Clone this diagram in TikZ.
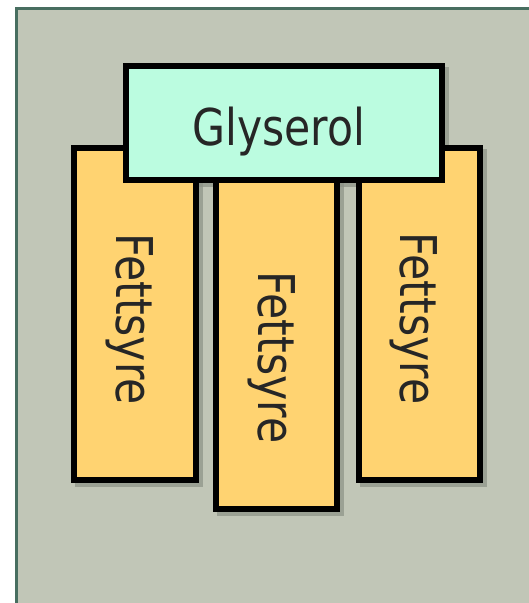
\documentclass[tikz,border=0pt]{standalone}
\usepackage{fontspec}
\setmainfont[FakeStretch=0.84]{DejaVu Sans}
\definecolor{bgc}{RGB}{193,198,183}
\definecolor{framec}{RGB}{72,110,96}
\definecolor{glyc}{RGB}{187,252,224}
\definecolor{fatc}{RGB}{255,211,113}
\definecolor{shadc}{RGB}{140,146,134}
\tikzset{
  boxstyle/.style={draw=black, line width=6pt, inner sep=0pt, outer sep=0pt},
  fatbox/.style={boxstyle, fill=fatc},
  glybox/.style={boxstyle, fill=glyc},
  shad/.style={fill=shadc, opacity=0.7},
  lbl/.style={font=\fontsize{50.7}{51}\selectfont, inner sep=0pt, text height=37pt, text depth=0pt, text=black!85},
  vlbl/.style={lbl, rotate=-90}
}
\begin{document}
\begin{tikzpicture}[x=1pt,y=-1pt]
\useasboundingbox (0,0) rectangle (529,603);
\fill[white] (0,0) rectangle (529,603);
\fill[bgc] (15,7) rectangle (529,603);
\draw[framec, line width=3pt] (16.5,603) -- (16.5,8.5) -- (529,8.5);
% shadows
\fill[shad] (75,149) rectangle (203,487);
\fill[shad] (360,149) rectangle (487,487);
\fill[shad] (217,175) rectangle (344,516);
\fill[shad] (127,67) rectangle (449,187);
% boxes
\node[fatbox, minimum width=122pt, minimum height=332pt] (f1) at (135,314) {};
\node[fatbox, minimum width=121pt, minimum height=332pt] (f3) at (419.5,314) {};
\node[fatbox, minimum width=121pt, minimum height=339pt] (f2) at (276.5,339.5) {};
\node[glybox, minimum width=316pt, minimum height=114pt] (g) at (284,123) {};
% labels
\node[lbl] (gt) at (279,126.5) {Glyserol};
\node[vlbl] (t1) at (134.5,319) {Fettsyre};
\node[vlbl] (t2) at (276.5,357.5) {Fettsyre};
\node[vlbl] (t3) at (418.5,318.5) {Fettsyre};
\end{tikzpicture}
\end{document}
